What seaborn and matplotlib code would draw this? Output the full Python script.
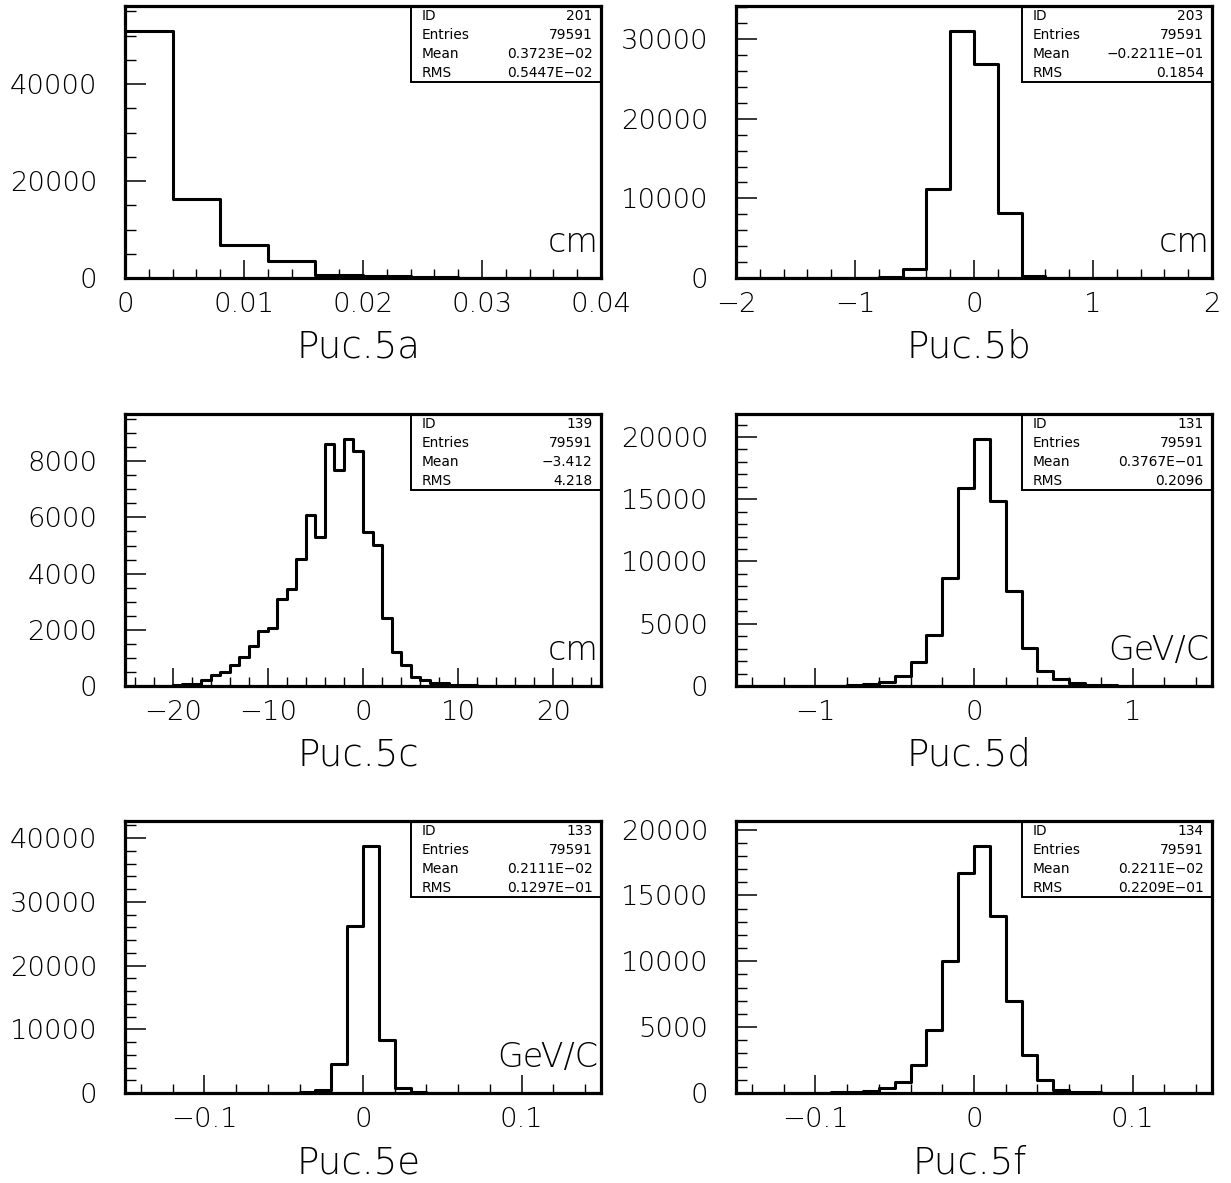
import numpy as np
import pandas as pd
import matplotlib
matplotlib.use("Agg")
import matplotlib.pyplot as plt
import seaborn as sns
from matplotlib.ticker import MultipleLocator, FuncFormatter
from matplotlib.patches import Rectangle

# ---------------- data ----------------
range_a = (0.0, 0.04)
counts_a = [51000, 16200, 6900, 3600, 700, 420, 200, 100, 50, 30]

range_b = (-2.0, 2.0)
counts_b = [0, 0, 0, 0, 0, 0, 150, 1150, 11150, 31060, 26900, 8210, 300, 50,
            0, 0, 0, 0, 0, 0]

range_c = (-25.0, 25.0)
counts_c = [0, 0, 0, 0, 0, 30, 85, 85, 200, 380, 500, 740, 1020, 1425, 1940,
            2060, 3100, 3440, 4515, 6095, 5290, 8620, 7690, 8800, 8350, 5470,
            5030, 2420, 1200, 740, 320, 200, 110, 110, 50, 50, 50, 0, 0, 0,
            0, 0, 0, 0, 0, 0, 0, 0, 0, 0]

range_d = (-1.5, 1.5)
counts_d = [0, 0, 0, 0, 0, 0, 0, 50, 160, 350, 810, 1920, 4065, 8700, 15880,
            19860, 14850, 7615, 3090, 1220, 540, 220, 110, 50, 0, 0, 0, 0, 0, 0]

range_e = (-0.15, 0.15)
counts_e = [0, 0, 0, 0, 0, 0, 0, 0, 0, 0, 0, 100, 525, 4570, 26200, 38800,
            8350, 735, 100, 0, 0, 0, 0, 0, 0, 0, 0, 0, 0, 0]

range_f = (-0.15, 0.15)
counts_f = [0, 0, 0, 0, 0, 0, 50, 100, 180, 355, 810, 2130, 4800, 10030, 16730,
            18780, 13450, 6980, 2890, 990, 250, 100, 50, 0, 0, 0, 0, 0, 0, 0]

titles = ["Puc.5a", "Puc.5b", "Puc.5c", "Puc.5d", "Puc.5e", "Puc.5f"]
units = ["cm", "cm", "cm", "GeV/C", "GeV/C", ""]
stat_ids = ["201", "203", "139", "131", "133", "134"]
stat_entries = ["79591"] * 6
stat_means = ["0.3723E\u221202", "\u22120.2211E\u221201", "\u22123.412",
              "0.3767E\u221201", "0.2111E\u221202", "0.2211E\u221202"]
stat_rms = ["0.5447E\u221202", "0.1854", "4.218", "0.2096",
            "0.1297E\u221201", "0.2209E\u221201"]

x_major = [0.01, 1, 10, 1, 0.1, 0.1]
x_minor = [0.002, 0.2, 2, 0.2, 0.02, 0.02]
y_major = [20000, 10000, 2000, 5000, 10000, 5000]
y_minor = [5000, 2000, 500, 1000, 2000, 1000]

ranges = [range_a, range_b, range_c, range_d, range_e, range_f]
counts = [counts_a, counts_b, counts_c, counts_d, counts_e, counts_f]

# ---------------- style ----------------
sns.set_theme(style="ticks")
plt.rcParams["font.family"] = ["DejaVu Sans"]
plt.rcParams["font.weight"] = "light"
plt.rcParams["axes.unicode_minus"] = True

W, H = 1231, 1183
fig = plt.figure(figsize=(W / 100, H / 100), dpi=100)
fig.patch.set_facecolor("white")

lefts = [125, 736]
tops = [6, 414, 821]
aw, ah = 476, 272


def fmt(v, pos):
    v = round(v, 8)
    if abs(v) < 1e-10:
        return "0"
    return f"{v:g}".replace("-", "\u2212")


for i in range(6):
    r, c = divmod(i, 2)
    l = lefts[c]
    t = tops[r]
    ax = fig.add_axes([l / W, 1 - (t + ah) / H, aw / W, ah / H])
    lo, hi = ranges[i]
    cnt = np.array(counts[i], dtype=float)
    edges = np.linspace(lo, hi, len(cnt) + 1)
    centers = 0.5 * (edges[:-1] + edges[1:])
    df = pd.DataFrame({"x": centers, "w": cnt})
    sns.histplot(data=df, x="x", weights="w", bins=[float(e) for e in edges],
                 element="step", fill=False, color="black", linewidth=2.2,
                 ax=ax)
    ax.set_xlim(lo, hi)
    ax.set_ylim(0, 1.1 * cnt.max())
    ax.set_xlabel("")
    ax.set_ylabel("")
    ax.set_facecolor("white")
    for s in ax.spines.values():
        s.set_visible(True)
        s.set_linewidth(2.3)
        s.set_color("black")

    ax.xaxis.set_major_locator(MultipleLocator(x_major[i]))
    ax.xaxis.set_minor_locator(MultipleLocator(x_minor[i]))
    ax.yaxis.set_major_locator(MultipleLocator(y_major[i]))
    ax.yaxis.set_minor_locator(MultipleLocator(y_minor[i]))
    ax.xaxis.set_major_formatter(FuncFormatter(fmt))
    ax.yaxis.set_major_formatter(FuncFormatter(fmt))

    ax.tick_params(axis="x", which="major", direction="in", length=13,
                   width=1.1, pad=10, labelsize=19.7, colors="black",
                   top=False, bottom=True)
    ax.tick_params(axis="x", which="minor", direction="in", length=6.5,
                   width=1.0, top=False, bottom=True, colors="black")
    ax.tick_params(axis="y", which="major", direction="in", length=15,
                   width=1.1, pad=20, labelsize=19.7, colors="black",
                   left=True, right=False)
    ax.tick_params(axis="y", which="minor", direction="in", length=8,
                   width=1.0, left=True, right=False, colors="black")

    # stats box
    bx0, by0 = 0.600, 0.7206
    ax.add_patch(Rectangle((bx0, by0), 1 - bx0, 1 - by0, transform=ax.transAxes,
                           fill=False, edgecolor="black", linewidth=1.4,
                           zorder=5))
    rows = [("ID", stat_ids[i]), ("Entries", stat_entries[i]),
            ("Mean", stat_means[i]), ("RMS", stat_rms[i])]
    for k, (lab, val) in enumerate(rows):
        yy = 1 - (0.037 + 0.0697 * k)
        ax.text(0.623, yy, lab, transform=ax.transAxes, ha="left",
                va="center", fontsize=9.9, fontweight="normal",
                color="black", zorder=6)
        ax.text(0.9825, yy, val, transform=ax.transAxes, ha="right",
                va="center", fontsize=9.9, fontweight="normal",
                color="black", zorder=6)

    if units[i]:
        ax.text(0.994, 0.096, units[i], transform=ax.transAxes, ha="right",
                va="baseline", fontsize=24, color="black")

    ax.text(0.49, -69 / ah, titles[i], transform=ax.transAxes, ha="center",
            va="center", fontsize=26.7, color="black")

fig.savefig("out.png", dpi=100, facecolor="white")
